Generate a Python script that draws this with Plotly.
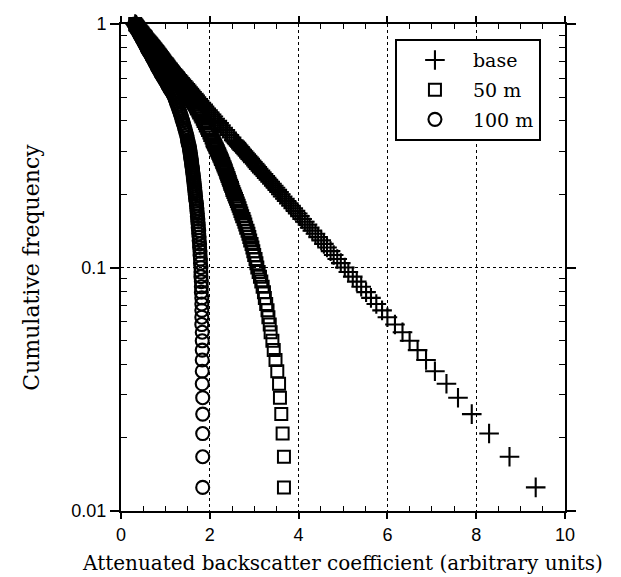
import plotly.graph_objects as go

# Cumulative frequency (shared by all three series)
cum_freq = [
    0.0125, 0.0167, 0.0208, 0.0250, 0.0292, 0.0333, 0.0375, 0.0417, 0.0458, 0.0500,
    0.0542, 0.0583, 0.0625, 0.0667, 0.0708, 0.0750, 0.0792, 0.0833, 0.0875, 0.0917,
    0.0958, 0.1000, 0.1042, 0.1083, 0.1125, 0.1167, 0.1208, 0.1250, 0.1292, 0.1333,
    0.1375, 0.1417, 0.1458, 0.1500, 0.1542, 0.1583, 0.1625, 0.1667, 0.1708, 0.1750,
    0.1792, 0.1833, 0.1875, 0.1917, 0.1958, 0.2000, 0.2042, 0.2083, 0.2125, 0.2167,
    0.2208, 0.2250, 0.2292, 0.2333, 0.2375, 0.2417, 0.2458, 0.2500, 0.2542, 0.2583,
    0.2625, 0.2667, 0.2708, 0.2750, 0.2792, 0.2833, 0.2875, 0.2917, 0.2958, 0.3000,
    0.3042, 0.3083, 0.3125, 0.3167, 0.3208, 0.3250, 0.3292, 0.3333,
    0.3417, 0.3500, 0.3583, 0.3667, 0.3750, 0.3833, 0.3917, 0.4000, 0.4083, 0.4167,
    0.4250, 0.4333, 0.4417, 0.4500, 0.4583, 0.4667, 0.4750, 0.4833, 0.4917, 0.5000,
    0.5083, 0.5167, 0.5250, 0.5333, 0.5417, 0.5500, 0.5583, 0.5667, 0.5750, 0.5833,
    0.5917, 0.6000, 0.6083, 0.6167, 0.6250, 0.6333, 0.6417, 0.6500, 0.6583, 0.6667,
    0.6750, 0.6833, 0.6917, 0.7000, 0.7083, 0.7167, 0.7250, 0.7333, 0.7417, 0.7500,
    0.7583, 0.7667, 0.7750, 0.7833, 0.7917, 0.8000, 0.8083, 0.8167, 0.8250, 0.8333,
    0.8417, 0.8500, 0.8583, 0.8667, 0.8750, 0.8833, 0.8917, 0.9000, 0.9083, 0.9167,
    0.9250, 0.9333, 0.9417, 0.9500, 0.9583, 0.9667, 0.9750, 0.9833, 0.9917, 1.0000,
]

# Attenuated backscatter coefficient for each series
x_base = [
    9.34, 8.75, 8.29, 7.90, 7.59, 7.33, 7.07, 6.87, 6.68, 6.50,
    6.34, 6.17, 6.00, 5.88, 5.75, 5.63, 5.52, 5.41, 5.31, 5.22,
    5.12, 5.04, 4.95, 4.87, 4.79, 4.72, 4.64, 4.57, 4.51, 4.44,
    4.38, 4.31, 4.25, 4.20, 4.14, 4.08, 4.03, 3.98, 3.93, 3.88,
    3.83, 3.78, 3.73, 3.69, 3.64, 3.60, 3.56, 3.52, 3.48, 3.44,
    3.40, 3.36, 3.32, 3.28, 3.25, 3.21, 3.17, 3.14, 3.10, 3.07,
    3.04, 3.01, 2.97, 2.94, 2.91, 2.88, 2.85, 2.82, 2.79, 2.76,
    2.73, 2.70, 2.68, 2.65, 2.62, 2.60, 2.57, 2.54,
    2.49, 2.44, 2.39, 2.35, 2.30, 2.25, 2.21, 2.17, 2.12, 2.08,
    2.04, 2.00, 1.96, 1.92, 1.88, 1.85, 1.81, 1.77, 1.74, 1.70,
    1.67, 1.64, 1.60, 1.57, 1.54, 1.51, 1.48, 1.45, 1.42, 1.39,
    1.36, 1.33, 1.30, 1.27, 1.24, 1.22, 1.19, 1.16, 1.13, 1.11,
    1.08, 1.06, 1.03, 1.01, 0.98, 0.96, 0.94, 0.91, 0.90, 0.88,
    0.85, 0.83, 0.81, 0.79, 0.76, 0.74, 0.73, 0.71, 0.69, 0.67,
    0.65, 0.63, 0.61, 0.59, 0.58, 0.56, 0.54, 0.52, 0.50, 0.48,
    0.46, 0.45, 0.43, 0.42, 0.40, 0.38, 0.36, 0.35, 0.34, 0.32,
]
x_50m = [
    3.67, 3.67, 3.64, 3.61, 3.58, 3.56, 3.52, 3.48, 3.44, 3.41,
    3.37, 3.35, 3.32, 3.30, 3.27, 3.24, 3.22, 3.19, 3.16, 3.13,
    3.10, 3.07, 3.05, 3.03, 3.00, 2.98, 2.96, 2.94, 2.91, 2.89,
    2.87, 2.85, 2.82, 2.80, 2.78, 2.76, 2.73, 2.71, 2.69, 2.67,
    2.65, 2.63, 2.61, 2.59, 2.57, 2.55, 2.53, 2.51, 2.50, 2.48,
    2.46, 2.45, 2.43, 2.42, 2.40, 2.39, 2.37, 2.36, 2.34, 2.33,
    2.31, 2.30, 2.28, 2.27, 2.25, 2.24, 2.22, 2.21, 2.19, 2.18,
    2.16, 2.15, 2.13, 2.12, 2.10, 2.09, 2.07, 2.06,
    2.04, 2.01, 1.99, 1.96, 1.94, 1.91, 1.89, 1.86, 1.84, 1.81,
    1.79, 1.76, 1.74, 1.71, 1.69, 1.66, 1.64, 1.61, 1.59, 1.56,
    1.54, 1.51, 1.49, 1.46, 1.44, 1.41, 1.39, 1.36, 1.34, 1.31,
    1.29, 1.26, 1.24, 1.21, 1.19, 1.16, 1.14, 1.12, 1.09, 1.07,
    1.05, 1.03, 1.00, 0.98, 0.96, 0.94, 0.92, 0.90, 0.88, 0.86,
    0.84, 0.82, 0.80, 0.78, 0.76, 0.74, 0.72, 0.70, 0.68, 0.66,
    0.64, 0.62, 0.60, 0.58, 0.56, 0.55, 0.53, 0.51, 0.49, 0.48,
    0.46, 0.44, 0.42, 0.41, 0.39, 0.38, 0.36, 0.35, 0.33, 0.32,
]
x_100m = [
    1.84, 1.84, 1.84, 1.84, 1.84, 1.83, 1.83, 1.83, 1.83, 1.83,
    1.83, 1.82, 1.82, 1.82, 1.82, 1.82, 1.81, 1.81, 1.81, 1.80,
    1.80, 1.80, 1.79, 1.79, 1.78, 1.78, 1.77, 1.77, 1.76, 1.76,
    1.75, 1.75, 1.74, 1.74, 1.73, 1.73, 1.72, 1.72, 1.71, 1.71,
    1.70, 1.70, 1.69, 1.68, 1.68, 1.67, 1.67, 1.66, 1.66, 1.65,
    1.65, 1.64, 1.64, 1.63, 1.63, 1.62, 1.62, 1.61, 1.61, 1.60,
    1.60, 1.59, 1.59, 1.58, 1.58, 1.57, 1.57, 1.56, 1.56, 1.55,
    1.55, 1.54, 1.54, 1.53, 1.52, 1.51, 1.51, 1.50,
    1.49, 1.48, 1.46, 1.45, 1.43, 1.42, 1.40, 1.39, 1.37, 1.36,
    1.34, 1.33, 1.31, 1.30, 1.28, 1.27, 1.25, 1.24, 1.22, 1.21,
    1.19, 1.17, 1.15, 1.12, 1.10, 1.08, 1.06, 1.04, 1.02, 1.00,
    0.98, 0.96, 0.94, 0.92, 0.90, 0.89, 0.87, 0.85, 0.83, 0.82,
    0.80, 0.79, 0.77, 0.76, 0.74, 0.73, 0.71, 0.70, 0.68, 0.67,
    0.65, 0.64, 0.62, 0.61, 0.59, 0.58, 0.57, 0.56, 0.54, 0.53,
    0.52, 0.51, 0.49, 0.48, 0.47, 0.46, 0.44, 0.43, 0.42, 0.41,
    0.40, 0.39, 0.38, 0.37, 0.36, 0.35, 0.34, 0.33, 0.32, 0.31,
]

series_names = ["base", "50 m", "100 m"]

x_tickvals = [0, 2, 4, 6, 8, 10]
x_minor = [0.5, 1, 1.5, 2.5, 3, 3.5, 4.5, 5, 5.5, 6.5, 7, 7.5, 8.5, 9, 9.5]
y_tickvals = [0.01, 0.1, 1]
y_ticktext = ["0.01", "0.1", "1"]
y_minor = [0.02, 0.03, 0.04, 0.05, 0.06, 0.07, 0.08, 0.09,
           0.2, 0.3, 0.4, 0.5, 0.6, 0.7, 0.8, 0.9]

SERIF = "DejaVu Serif"
SANS = "Liberation Sans, Arial, sans-serif"

fig = go.Figure()
fig.add_trace(go.Scatter(
    x=x_base, y=cum_freq, mode="markers", name=series_names[0], cliponaxis=False,
    legendgroup="g1",
    marker=dict(symbol="cross-thin", size=14, color="black",
                line=dict(width=2.1, color="black")),
))
fig.add_trace(go.Scatter(
    x=x_50m, y=cum_freq, mode="markers", name=series_names[1], cliponaxis=False,
    legendgroup="g2",
    marker=dict(symbol="square-open", size=12, color="black",
                line=dict(width=2.0, color="black")),
))
fig.add_trace(go.Scatter(
    x=x_100m, y=cum_freq, mode="markers", name=series_names[2], cliponaxis=False,
    legendgroup="g3",
    marker=dict(symbol="circle-open", size=13, color="black",
                line=dict(width=2.1, color="black")),
))

axis_common = dict(
    showline=True, linecolor="black", linewidth=2, mirror="allticks",
    ticks="outside", tickcolor="black", tickwidth=1.5,
    showgrid=True, gridcolor="black", gridwidth=1, griddash="dot",
    zeroline=False, automargin=False,
    tickfont=dict(family=SANS, size=18, color="black"),
)

# The page adds an 8 px body margin, so the figure is 8 px smaller than the window
fig.update_layout(
    width=613, height=569,
    margin=dict(l=113, r=56, t=16, b=66),
    paper_bgcolor="white", plot_bgcolor="white",
    showlegend=True,
    legend=dict(
        x=0.617, y=0.969, xanchor="left", yanchor="top",
        bgcolor="white", bordercolor="black", borderwidth=2,
        font=dict(family=SERIF, size=19, color="black"),
        itemwidth=66, tracegroupgap=2,
    ),
    xaxis=dict(
        range=[0, 10], tickmode="array", tickvals=x_tickvals, ticklen=6,
        minor=dict(tickmode="array", tickvals=x_minor, ticks="inside",
                   ticklen=5, tickwidth=1.2, tickcolor="black", showgrid=False),
        title=dict(text="Attenuated backscatter coefficient (arbitrary units)",
                   font=dict(family=SERIF, size=20, color="black"), standoff=12),
        **axis_common,
    ),
    yaxis=dict(
        type="log", range=[-2, 0], tickmode="array", tickvals=y_tickvals,
        ticktext=y_ticktext, ticklen=9,
        minor=dict(tickmode="array", tickvals=y_minor, ticks="inside",
                   ticklen=6, tickwidth=1.2, tickcolor="black", showgrid=False),
        title=dict(text="Cumulative frequency",
                   font=dict(family=SERIF, size=22, color="black"), standoff=26),
        **axis_common,
    ),
)

fig.write_html("out.html")
